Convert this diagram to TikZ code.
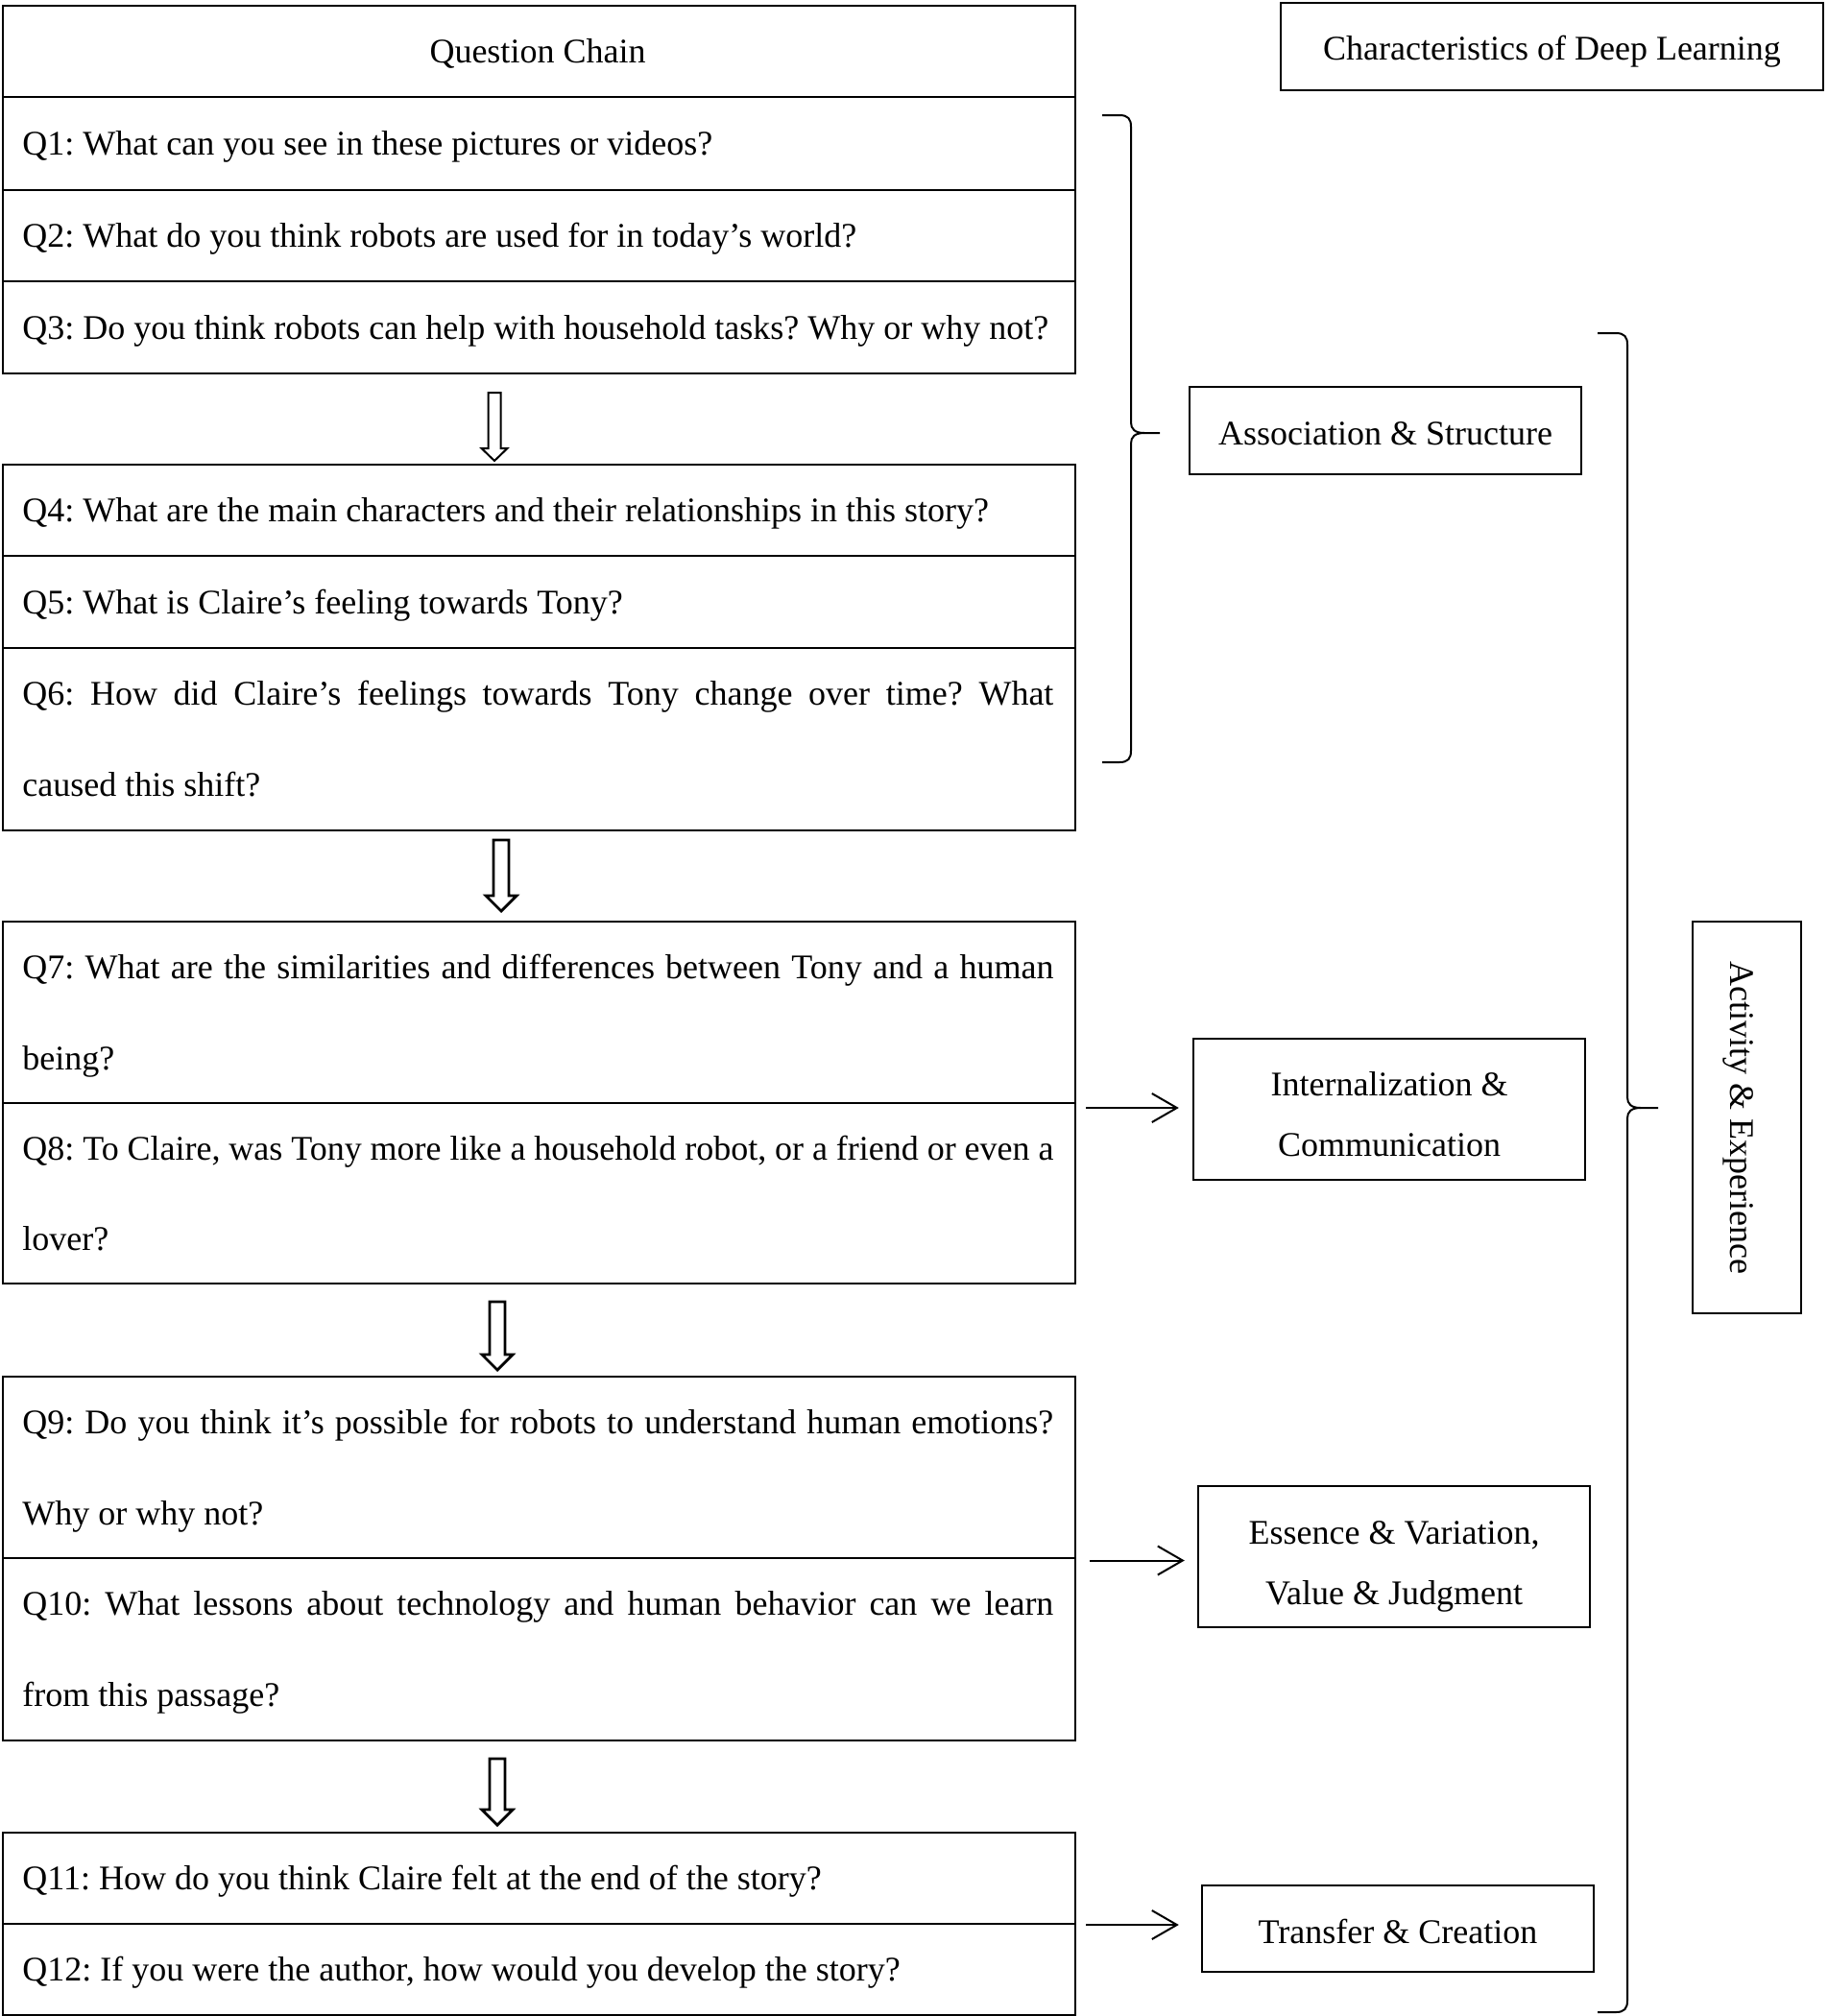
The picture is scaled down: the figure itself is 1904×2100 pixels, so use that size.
\documentclass[tikz,border=0pt]{standalone}
\usepackage{fontspec}
\setmainfont{Liberation Serif}
\usetikzlibrary{arrows.meta,calc}
\begin{document}
\frenchspacing
\begin{tikzpicture}[x=0.5pt,y=-0.5pt,
  font=\frenchspacing\fontsize{18}{31.5}\selectfont,
  cell/.style={draw, line width=1.2pt, anchor=north west, minimum width=558.5pt, inner sep=0pt},
  qt/.style={anchor=base west, inner sep=0pt},
  box/.style={draw, line width=1.2pt, inner sep=0pt},
  btext/.style={inner sep=0pt, align=center},
  conn/.style={line width=1pt, -{Straight Barb[length=13pt,width=15pt,line width=1pt]}},
  brace/.style={line width=1pt},
  hollow/.style={draw, line width=1.4pt, fill=white, line join=miter}]
\fill[white] (0,0) rectangle (1904,2100);
\useasboundingbox (0,0) rectangle (1904,2100);

% header
\node[cell, minimum height=47.5pt] (head) at (2,5) {};
\node[anchor=base, inner sep=0pt] (headt) at (560,65) {Question Chain};

% block 1
\node[cell, minimum height=48.5pt] (q1) at (2,100) {};
\node[cell, minimum height=47.5pt] (q2) at (2,197) {};
\node[cell, minimum height=48pt] (q3) at (2,292) {};
\node[qt] (t1) at (23,161.5) {Q1: What can you see in these pictures or videos?};
\node[qt] (t2) at (23,257.5) {Q2: What do you think robots are used for in today’s world?};
\node[qt] (t3) at (23,353) {Q3: Do you think robots can help with household tasks? Why or why not?};

% block 2
\node[cell, minimum height=47.5pt] (q4) at (2,483) {};
\node[cell, minimum height=48pt] (q5) at (2,578) {};
\node[cell, minimum height=95pt] (q6) at (2,674) {};
\node[qt] (t4) at (23,543.5) {Q4: What are the main characters and their relationships in this story?};
\node[qt] (t5) at (23,639) {Q5: What is Claire’s feeling towards Tony?};
\node[qt] (t6a) at (23,734.5) {\makebox[537pt][s]{Q6: How did Claire’s feelings towards Tony change over time? What}};
\node[qt] (t6b) at (23,829.5) {caused this shift?};

% block 3
\node[cell, minimum height=94.5pt] (q7) at (2,959) {};
\node[cell, minimum height=94pt] (q8) at (2,1148) {};
\node[qt] (t7a) at (23,1019) {\makebox[537pt][s]{Q7: What are the similarities and differences between Tony and a human}};
\node[qt] (t7b) at (23,1114) {being?};
\node[qt] (t8a) at (23,1208) {\makebox[537pt][s]{Q8: To Claire, was Tony more like a household robot, or a friend or even a}};
\node[qt] (t8b) at (23,1302) {lover?};

% block 4
\node[cell, minimum height=94.5pt] (q9) at (2,1433) {};
\node[cell, minimum height=95pt] (q10) at (2,1622) {};
\node[qt] (t9a) at (23,1493) {\makebox[537pt][s]{Q9: Do you think it’s possible for robots to understand human emotions?}};
\node[qt] (t9b) at (23,1588) {Why or why not?};
\node[qt] (t10a) at (23,1682.5) {\makebox[537pt][s]{Q10: What lessons about technology and human behavior can we learn}};
\node[qt] (t10b) at (23,1777.5) {from this passage?};

% block 5
\node[cell, minimum height=47.5pt] (q11) at (2,1908) {};
\node[cell, minimum height=47.5pt] (q12) at (2,2003) {};
\node[qt] (t11) at (23,1968.5) {Q11: How do you think Claire felt at the end of the story?};
\node[qt] (t12) at (23,2063.5) {Q12: If you were the author, how would you develop the story?};

% hollow down arrows
\draw[line width=1pt, fill=white] (508.5,409) -- (521.5,409) -- (521.5,467) -- (528.5,467) -- (515,480) -- (501.5,467) -- (508.5,467) -- cycle;
\draw[hollow] (514,875) -- (530,875) -- (530,933) -- (538,933) -- (522,949) -- (506,933) -- (514,933) -- cycle;
\draw[hollow] (510,1356) -- (526,1356) -- (526,1411) -- (534,1411) -- (518,1427) -- (502,1411) -- (510,1411) -- cycle;
\draw[hollow] (510,1832) -- (526,1832) -- (526,1885) -- (534,1885) -- (518,1901) -- (502,1885) -- (510,1885) -- cycle;

% right side boxes
\node[box, minimum width=282.5pt, minimum height=45.5pt] (cdl) at (1616.5,48.5) {};
\node[btext] (cdlt) at ($(cdl.center)+(0,5)$) {Characteristics of Deep Learning};
\node[box, minimum width=204pt, minimum height=45.5pt] (assoc) at (1443,448.5) {};
\node[btext] (assoct) at ($(assoc.center)+(0,3)$) {Association \& Structure};
\node[box, minimum width=204pt, minimum height=73.5pt] (intern) at (1447,1155.5) {};
\node[btext] (internt) at ($(intern.center)+(0,5)$) {Internalization \&\\Communication};
\node[box, minimum width=204pt, minimum height=73.5pt] (ess) at (1452,1621.5) {};
\node[btext] (esst) at ($(ess.center)+(0,10)$) {Essence \& Variation,\\Value \& Judgment};
\node[box, minimum width=204pt, minimum height=45pt] (trans) at (1456,2009) {};
\node[btext] (transt) at ($(trans.center)+(0,3)$) {Transfer \& Creation};
\node[box, minimum width=56.5pt, minimum height=204pt] (act) at (1819.5,1164) {};
\node[btext, rotate=-90] (actt) at ($(act.center)+(-9,0)$) {Activity \& Experience};

% thin arrows
\coordinate (s1) at (1131,1154);
\coordinate (s2) at (1135,1625.5);
\coordinate (s3) at (1131,2005);
\draw[conn, shorten >=7pt] (s1) -- (intern.west |- s1);
\draw[conn, shorten >=6.5pt] (s2) -- (ess.west |- s2);
\draw[conn, shorten >=11.5pt] (s3) -- (trans.west |- s3);

% brace 1
\draw[brace] (1148,120) -- (1166,120) .. controls (1175,120) and (1178,124) .. (1178,132) -- (1178,440) .. controls (1178,447) and (1182,451) .. (1192,451) -- (1208,451);
\draw[brace] (1192,451) .. controls (1182,451) and (1178,455) .. (1178,462) -- (1178,782) .. controls (1178,790) and (1175,794) .. (1166,794) -- (1148,794);

% brace 2
\draw[brace] (1664,347) -- (1683,347) .. controls (1692,347) and (1695,351) .. (1695,359) -- (1695,1143) .. controls (1695,1150) and (1699,1154) .. (1709,1154) -- (1727,1154);
\draw[brace] (1709,1154) .. controls (1699,1154) and (1695,1158) .. (1695,1165) -- (1695,2084) .. controls (1695,2092) and (1692,2096) .. (1683,2096) -- (1664,2096);
\end{tikzpicture}
\end{document}
